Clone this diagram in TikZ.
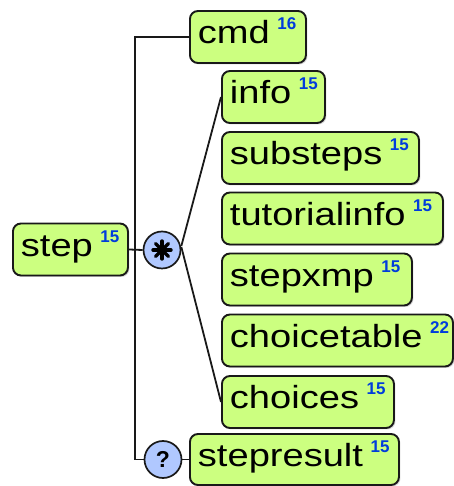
\documentclass[tikz,border=0pt]{standalone}
\usepackage{fontspec}
\usetikzlibrary{shadows}
\newfontfamily\lblfont[FakeStretch=1.19]{Liberation Sans}
\newfontfamily\numfont{Liberation Sans}
\definecolor{elemfill}{RGB}{204,255,128}
\definecolor{compfill}{RGB}{176,200,255}
\definecolor{refblue}{RGB}{0,60,220}
% element label: fixed inner width, name, then the blue reference number
\newcommand{\elemlabel}[3]{\makebox[#1][l]{\lblfont\fontsize{32}{32}\selectfont #2\hspace{7.5pt}\raisebox{14pt}{\numfont\bfseries\fontsize{17}{17}\selectfont\color{refblue}#3}}}
\tikzset{
  elembox/.style={draw=black!90, line width=1.9pt, fill=elemfill, rounded corners=8pt,
    anchor=west, inner xsep=8pt, inner ysep=0pt, minimum height=52pt,
    text height=21pt, text depth=7pt,
    drop shadow={shadow xshift=1.5pt, shadow yshift=-1.5pt, opacity=0.3}},
  compcircle/.style={circle, draw=black!90, line width=1.7pt, fill=compfill,
    minimum size=37pt, inner sep=0pt},
  link/.style={line width=1.8pt, draw=black!90}
}
\begin{document}
\begin{tikzpicture}[x=1pt,y=1pt]
\useasboundingbox (0,0) rectangle (453,486);

% compositors
\node[compcircle] (star) at (162,236) {};
\node[compcircle] (opt) at (163,26.5) {\numfont\bfseries\fontsize{23}{23}\selectfont ?};

% main element and its children
\node[elembox] (step) at (12,236.5) {\elemlabel{99pt}{step}{15}};
\node[elembox] (cmd) at (189,449) {\elemlabel{100pt}{cmd}{16}};
\node[elembox] (info) at (221,389) {\elemlabel{87pt}{info}{15}};
\node[elembox] (substeps) at (221,328) {\elemlabel{181pt}{substeps}{15}};
\node[elembox] (tutorialinfo) at (221,267.5) {\elemlabel{205pt}{tutorialinfo}{15}};
\node[elembox] (stepxmp) at (221,206.5) {\elemlabel{174pt}{stepxmp}{15}};
\node[elembox] (choicetable) at (221,145.5) {\elemlabel{215pt}{choicetable}{22}};
\node[elembox] (choices) at (221,84) {\elemlabel{156pt}{choices}{15}};
\node[elembox, minimum height=51pt] (stepresult) at (189,26.5) {\elemlabel{193pt}{stepresult}{15}};

% connectors
\coordinate (trunktop) at (135,449);
\coordinate (trunkbot) at (135,26.5);
\draw[link] (cmd.west) -- (trunktop) -- (trunkbot) -- (opt.west);
\draw[link] (opt.east) -- (stepresult.west);
\draw[link] (step.east) -- (star.west);
\draw[link] (star.east) ++(0,4) -- (info.west);
\draw[link] (star.east) ++(0,3) -- (choices.west);

% asterisk inside the repetition circle
\foreach \a in {0,45,90,135}
  \draw[line width=3.4pt, line cap=round] (star.center) ++(\a:9) -- ++(\a+180:18);
\fill (star.center) circle (4pt);
\end{tikzpicture}
\end{document}
